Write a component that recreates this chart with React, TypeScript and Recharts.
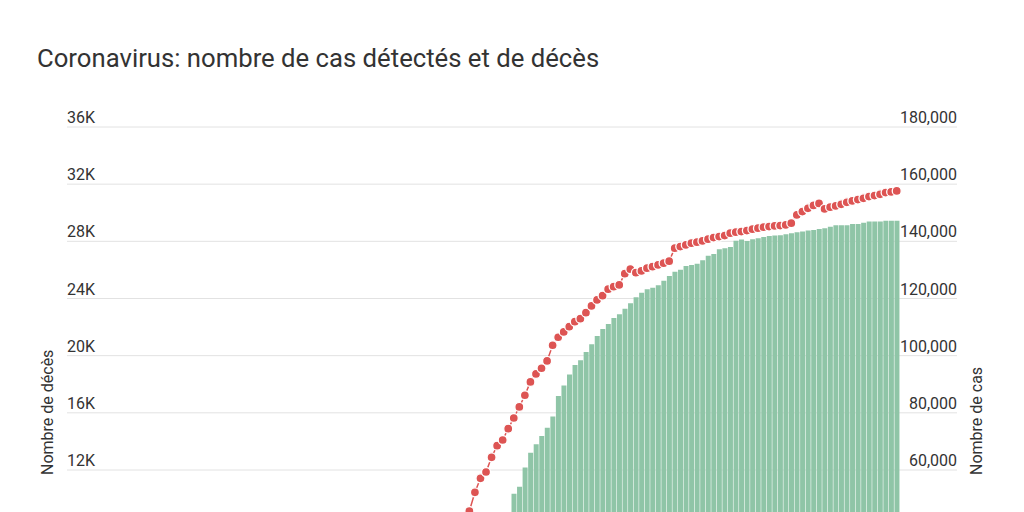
import { Bar, CartesianGrid, ComposedChart, Line, XAxis, YAxis } from "recharts";

// cumulative detected cases, one value per day (first days are below the visible area)
const cas = [
  3, 3, 3, 3, 3, 4, 5, 5, 5, 6,
  6, 6, 6, 6, 6, 11, 11, 11, 11, 11,
  12, 12, 12, 12, 12, 12, 12, 12, 12, 12,
  12, 12, 12, 12, 12, 12, 12, 12, 14, 18,
  38, 57, 100, 130, 191, 212, 285, 423, 613, 949,
  1126, 1412, 1784, 2281, 2876, 3661, 4499, 5423, 6633, 7730,
  9134, 10995, 12612, 14459, 16018, 17500, 19500, 21500, 24000, 26500,
  29000, 31000, 33000, 35000, 36500, 38000, 39500, 41000, 42500, 44000,
  51700, 54100, 60900, 66000, 69000, 71900, 74800, 78700, 85900, 89600,
  93400, 96700, 98400, 101300, 104000, 106900, 109300, 111100, 113200, 114500,
  116400, 118300, 120400, 122000, 123200, 123800, 124600, 126200, 127900, 129400,
  130100, 131400, 131700, 132200, 133400, 135000, 135600, 137200, 137600, 138000,
  140200, 140600, 140100, 140700, 141100, 141500, 141900, 142000, 142100, 142500,
  142800, 143200, 143400, 143800, 144000, 144300, 144600, 145100, 145600, 145600,
  145600, 146100, 146100, 146500, 146900, 146900, 146900, 147200, 147200, 147200,
];

// cumulative deaths
const deces = [
  0, 0, 0, 0, 0, 0, 0, 0, 0, 0,
  0, 0, 0, 0, 0, 0, 0, 0, 0, 0,
  0, 0, 1, 1, 1, 1, 1, 1, 1, 1,
  1, 1, 1, 2, 2, 2, 2, 3, 4, 7,
  9, 11, 19, 25, 33, 48, 61, 79, 91, 127,
  148, 175, 244, 372, 450, 562, 674, 860, 1100, 1331,
  1696, 1995, 2314, 2606, 3024, 3523, 4032, 4503, 5387, 6507,
  7560, 8078, 9130, 10440, 11420, 11860, 12890, 13700, 14100, 14890,
  15640, 16410, 17230, 18160, 18720, 19120, 19630, 20730, 21290, 21660,
  22030, 22380, 22590, 23010, 23480, 23900, 24200, 24650, 24830, 24950,
  25740, 26050, 25810, 25930, 26120, 26230, 26350, 26470, 26610, 27520,
  27630, 27750, 27870, 27940, 28030, 28150, 28260, 28330, 28400, 28570,
  28640, 28680, 28750, 28850, 28920, 28990, 29030, 29080, 29100, 29150,
  29270, 29850, 30080, 30310, 30510, 30650, 30270, 30390, 30480, 30590,
  30730, 30830, 30920, 31010, 31130, 31200, 31290, 31410, 31460, 31530,
];

// only the ticks inside the visible window
const decesTicks = [12000, 16000, 20000, 24000, 28000, 32000, 36000];
const casTicks = [60000, 80000, 100000, 120000, 140000, 160000, 180000];

const debut = new Date(2020, 0, 24);
const dates = cas.map((_, i) => {
  const d = new Date(debut);
  d.setDate(d.getDate() + i);
  return `${d.getDate()}/${d.getMonth() + 1}`;
});

const data = dates.map((date, i) => ({ date, cas: cas[i], deces: deces[i] }));

const FONT = "Roboto, 'Noto Sans', sans-serif";
const TEXT = "#333333";
const GREEN = "#8fc5a7";
const RED = "#dd5453";

const leftTick = (props: any) => (
  <text
    key={`l-${props.payload.value}`}
    x={67}
    y={props.y - 4}
    textAnchor="start"
    fontSize={16}
    fill={TEXT}
    fontFamily={FONT}
  >
    {`${props.payload.value / 1000}K`}
  </text>
);

const rightTick = (props: any) => (
  <text
    key={`r-${props.payload.value}`}
    x={957}
    y={props.y - 4}
    textAnchor="end"
    fontSize={16}
    fill={TEXT}
    fontFamily={FONT}
  >
    {props.payload.value.toLocaleString("en-US")}
  </text>
);

const leftTitle = () => (
  <text x={53} y={475} transform="rotate(-90 53 475)" fontSize={16} fill={TEXT} fontFamily={FONT}>
    Nombre de décès
  </text>
);

const rightTitle = () => (
  <text x={982} y={475} transform="rotate(-90 982 475)" fontSize={16} fill={TEXT} fontFamily={FONT}>
    Nombre de cas
  </text>
);

export default function App() {
  return (
    <div
      style={{
        position: "absolute",
        left: 0,
        top: 0,
        width: 1024,
        height: 512,
        overflow: "hidden",
        background: "#fff",
      }}
    >
      <div
        style={{
          position: "absolute",
          left: 37,
          top: 45,
          fontFamily: FONT,
          fontSize: 25.7,
          lineHeight: "26px",
          color: TEXT,
          whiteSpace: "nowrap",
        }}
      >
        Coronavirus: nombre de cas détectés et de décès
      </div>
      <div style={{ position: "absolute", left: 0, top: 0 }}>
        <ComposedChart
          width={1024}
          height={700}
          data={data}
          margin={{ top: 127, right: 66, bottom: 58.5, left: 66 }}
          barCategoryGap="9%"
        >
          <CartesianGrid yAxisId="d" vertical={false} stroke="#e2e2e2" />
          <XAxis dataKey="date" hide padding={{ left: 0, right: 57.5 }} />
          <YAxis
            yAxisId="d"
            domain={[0, 36000]}
            ticks={decesTicks}
            interval={0}
            width={1}
            axisLine={false}
            tickLine={false}
            tick={leftTick}
            label={leftTitle}
          />
          <YAxis
            yAxisId="c"
            orientation="right"
            domain={[0, 180000]}
            ticks={casTicks}
            interval={0}
            width={1}
            axisLine={false}
            tickLine={false}
            tick={rightTick}
            label={rightTitle}
          />
          <Bar yAxisId="c" dataKey="cas" fill={GREEN} isAnimationActive={false} />
          <Line
            yAxisId="d"
            dataKey="deces"
            stroke={RED}
            strokeWidth={1.5}
            dot={{ r: 4.5, fill: RED, stroke: "#fff", strokeWidth: 1.3 }}
            isAnimationActive={false}
          />
        </ComposedChart>
      </div>
    </div>
  );
}
